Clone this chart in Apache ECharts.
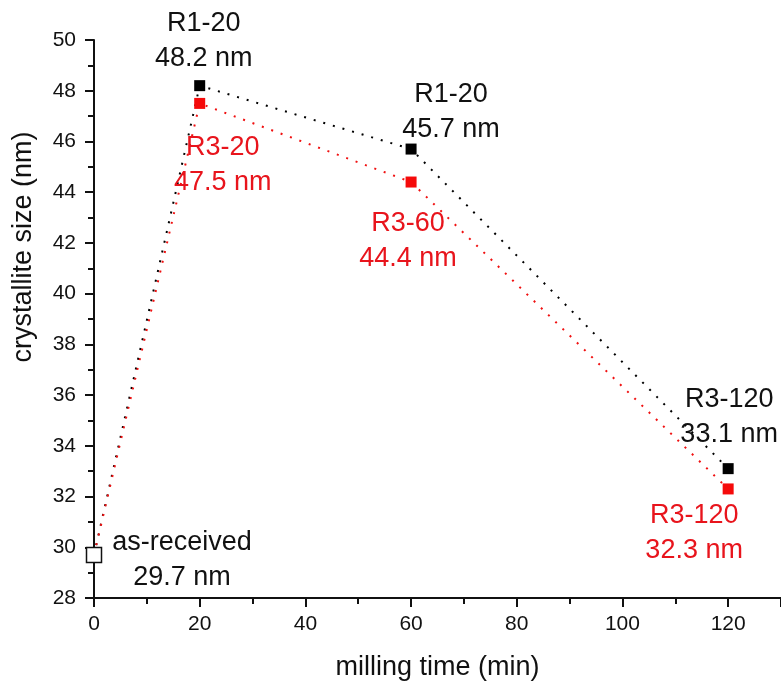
<!DOCTYPE html>
<html>
<head>
<meta charset="utf-8">
<script src="https://cdn.jsdelivr.net/npm/echarts@6/dist/echarts.min.js"></script>
<style>
  html, body { margin: 0; padding: 0; background: #fff; }
  #chart { width: 781px; height: 686px; }
</style>
</head>
<body>
<div id="chart"></div>
<script>
// milling time (min)
const times = [0, 20, 60, 120];
// crystallite size (nm)
const sizeR1 = [29.7, 48.2, 45.7, 33.1];
const sizeR3 = [29.7, 47.5, 44.4, 32.3];
const asReceived = [[0, 29.7]];
// point labels
const namesR1 = ["", "R1-20", "R1-20", "R3-120"];
const namesR3 = ["", "R3-20", "R3-60", "R3-120"];
const asReceivedName = "as-received";

// label offsets (centre of text block relative to the point)
const offR1 = [null, [4, -45], [40, -37], [1, -52]];
const offR3 = [null, [23, 62], [-3, 59], [-34, 44]];

var font = "Liberation Sans, Arial, sans-serif";

function makeData(values, names, offs, color) {
  return times.map(function(t, i) {
    var item = { value: [t, values[i]] };
    if (names[i]) {
      item.label = {
        show: true,
        position: "inside",
        offset: offs[i],
        formatter: names[i] + "\n" + values[i].toFixed(1) + " nm",
        color: color,
        fontSize: 27,
        lineHeight: 35,
        fontFamily: font
      };
    }
    return item;
  });
}

var chart = echarts.init(document.getElementById("chart"));
chart.setOption({
  animation: false,
  grid: { left: 94, right: 0, top: 40, bottom: 88 },
  xAxis: {
    type: "value",
    min: 0,
    max: 130,
    interval: 20,
    name: "milling time (min)",
    nameLocation: "middle",
    nameGap: 56,
    nameTextStyle: { fontSize: 27, color: "#111", fontFamily: font },
    axisLine: { show: true, onZero: false, lineStyle: { color: "#111", width: 2 } },
    axisTick: { show: true, inside: false, length: 9, lineStyle: { color: "#111", width: 2 } },
    minorTick: { show: true, splitNumber: 2, length: 6, lineStyle: { color: "#111", width: 2 } },
    axisLabel: { fontSize: 21, color: "#111", margin: 16, fontFamily: font, showMaxLabel: false },
    splitLine: { show: false }
  },
  yAxis: {
    type: "value",
    min: 28,
    max: 50,
    interval: 2,
    name: "crystallite size (nm)",
    nameLocation: "middle",
    nameGap: 57,
    nameTextStyle: { fontSize: 27, color: "#111", fontFamily: font, padding: [0, 0, 0, 144] },
    axisLine: { show: true, lineStyle: { color: "#111", width: 2 } },
    axisTick: { show: true, inside: false, length: 9, lineStyle: { color: "#111", width: 2 } },
    minorTick: { show: true, splitNumber: 2, length: 6, lineStyle: { color: "#111", width: 2 } },
    axisLabel: { fontSize: 21, color: "#111", margin: 18, fontFamily: font },
    splitLine: { show: false }
  },
  series: [
    {
      type: "line",
      data: makeData(sizeR1, namesR1, offR1, "#111"),
      symbol: "rect",
      symbolSize: 11,
      showAllSymbol: true,
      itemStyle: { color: "#000" },
      lineStyle: { color: "#000", width: 2, type: [2, 8] },
      z: 3
    },
    {
      type: "line",
      data: makeData(sizeR3, namesR3, offR3, "#e8141c"),
      symbol: "rect",
      symbolSize: 11,
      showAllSymbol: true,
      itemStyle: { color: "#f50a0a" },
      lineStyle: { color: "#f01010", width: 2, type: [2, 8] },
      z: 3
    },
    {
      type: "scatter",
      data: asReceived.map(function(p) {
        return {
          value: p,
          label: {
            show: true,
            position: "inside",
            offset: [88, 5],
            formatter: asReceivedName + "\n" + p[1].toFixed(1) + " nm",
            color: "#111",
            fontSize: 27,
            lineHeight: 35,
            fontFamily: font
          }
        };
      }),
      symbol: "rect",
      symbolSize: 15,
      itemStyle: { color: "#fff", borderColor: "#111", borderWidth: 1.5, opacity: 1 },
      z: 5
    }
  ]
});
</script>
</body>
</html>
